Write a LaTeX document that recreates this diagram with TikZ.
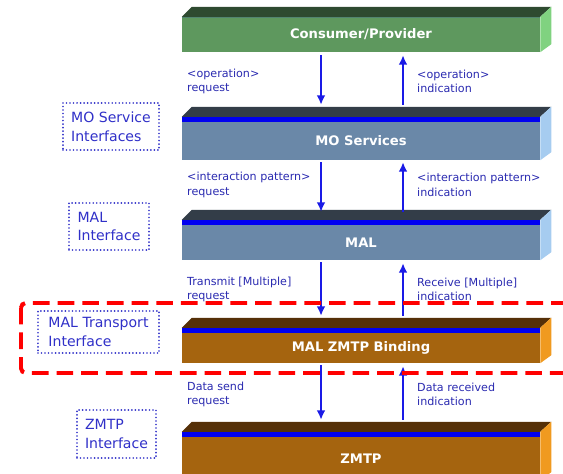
\documentclass[tikz,border=0pt]{standalone}
\usepackage{fontspec}
\setmainfont{DejaVu Sans}
\usepackage{xcolor}
\usetikzlibrary{arrows.meta,calc}
\definecolor{consFront}{HTML}{5E985E}
\definecolor{consTop}{HTML}{2E4A30}
\definecolor{consSide}{HTML}{80D280}
\definecolor{slateFront}{HTML}{6A88A8}
\definecolor{slateTop}{HTML}{333D48}
\definecolor{slateSide}{HTML}{A6CCF0}
\definecolor{brownFront}{HTML}{A5640F}
\definecolor{brownTop}{HTML}{553008}
\definecolor{brownSide}{HTML}{F09A20}
\definecolor{stripeC}{HTML}{0000F0}
\definecolor{flowC}{HTML}{1A1AE6}
\definecolor{textC}{HTML}{2A2AB0}
\definecolor{ifaceC}{HTML}{3030C8}

\begin{document}
\begin{tikzpicture}[
    x=0.03cm, y=0.03cm,
    layer/.style={minimum width=10.74cm, inner sep=0pt, text=white,
                  font=\bfseries\fontsize{11.2}{12}\selectfont},
    prim/.style={inner sep=0pt, align=left, text=textC,
                 font=\fontsize{9.5}{12.5}\selectfont},
    iface/.style={draw=ifaceC, line width=1.6pt, line cap=round,
                  dash pattern=on 0pt off 3pt, align=left, text=ifaceC,
                  inner sep=0pt, font=\fontsize{12}{16}\selectfont},
    flow/.style={-{Latex[length=2.8mm,width=2.6mm]}, line width=1.7pt, draw=flowC},
    focus/.style={draw=red, line width=3.4pt, dash pattern=on 0.5cm off 0.24cm,
                  rounded corners=4pt}
]
\useasboundingbox (0,0) rectangle (563,473);

% layers
\node[layer, fill=consFront, minimum height=1.05cm] (cons) at (361,438.5) {Consumer/Provider};
\node[layer, fill=slateFront, minimum height=1.14cm] (mo) at (361,332) {MO Services};
\node[layer, fill=slateFront, minimum height=1.05cm] (mal) at (361,230.5) {MAL};
\node[layer, fill=brownFront, minimum height=0.9cm] (bind) at (361,125) {MAL ZMTP Binding};
\node[layer, fill=brownFront, minimum height=1.29cm] (zmtp) at (361,14.5) {ZMTP};

\foreach \n/\tc/\sc/\st in {cons/consTop/consSide/0, mo/slateTop/slateSide/5,
    mal/slateTop/slateSide/5, bind/brownTop/brownSide/5, zmtp/brownTop/brownSide/5} {
  \fill[stripeC] (\n.north west) rectangle ($(\n.north east)+(0,\st)$);
  \fill[\tc] ($(\n.north west)+(0,\st)$) -- ++(10,10) -- ($(\n.north east)+(11,\st+10)$)
    -- ($(\n.north east)+(0,\st)$) -- cycle;
  \fill[\sc] (\n.south east) -- ($(\n.north east)+(0,\st)$) -- ($(\n.north east)+(11,\st+10)$)
    -- ($(\n.south east)+(11,8)$) -- cycle;
}

% primitives
\node[prim, anchor=west] (opreq) at (187,391.5) {<operation>\\request};
\node[prim, anchor=west] (opind) at (417,391.5) {<operation>\\indication};
\node[prim, anchor=west] (ipreq) at (187,288) {<interaction pattern>\\request};
\node[prim, anchor=west] (ipind) at (417,288) {<interaction pattern>\\indication};
\node[prim, anchor=west] (tmreq) at (187,183.5) {Transmit [Multiple]\\request};
\node[prim, anchor=west] (rcind) at (417,183.5) {Receive [Multiple]\\indication};
\node[prim, anchor=west] (dsreq) at (187,78.5) {Data send\\request};
\node[prim, anchor=west] (drind) at (417,78.5) {Data received\\indication};

\draw[flow] ($(cons.south)+(-40,-3)$) -- ($(mo.north)+(-40,17)$);
\draw[flow] ($(mo.north)+(42,17)$) -- ($(cons.south)+(42,-3)$);
\draw[flow] ($(mo.south)+(-40,-2)$) -- ($(mal.north)+(-40,13)$);
\draw[flow] ($(mal.north)+(42,13)$) -- ($(mo.south)+(42,-2)$);
\draw[flow] ($(mal.south)+(-40,-2)$) -- ($(bind.north)+(-40,17)$);
\draw[flow] ($(bind.north)+(42,17)$) -- ($(mal.south)+(42,-3)$);
\draw[flow] ($(bind.south)+(-40,-2)$) -- ($(zmtp.north)+(-40,17)$);
\draw[flow] ($(zmtp.north)+(42,17)$) -- ($(bind.south)+(42,-3)$);

% interfaces
\node[iface, minimum width=2.88cm, minimum height=1.41cm] (mosi) at (111,346.5) {MO Service\\Interfaces};
\node[iface, minimum width=2.4cm, minimum height=1.41cm] (mali) at (109,246.5) {MAL\\Interface};
\node[iface, minimum width=3.63cm, minimum height=1.26cm] (mti) at (98.5,141) {MAL Transport\\Interface};
\node[iface, minimum width=2.37cm, minimum height=1.44cm] (zi) at (116.5,39) {ZMTP\\Interface};

\draw[focus] (21,170) rectangle (600,100);
\end{tikzpicture}
\end{document}
